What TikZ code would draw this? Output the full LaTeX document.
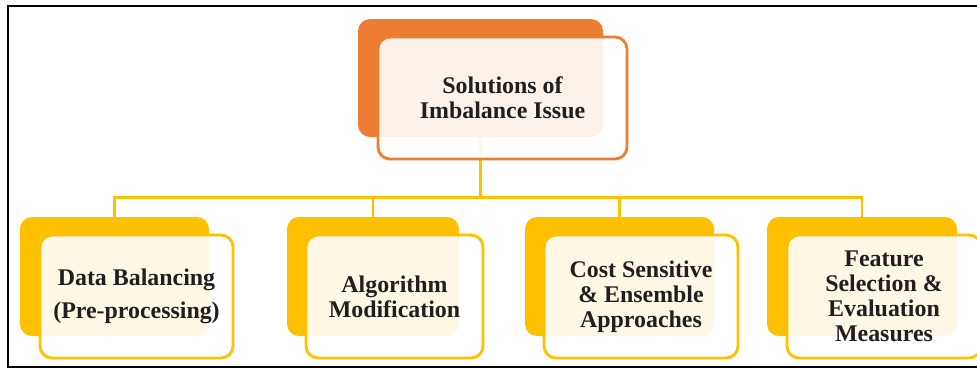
\documentclass[tikz,border=0pt]{standalone}
\usepackage{fontspec}
\setmainfont{Liberation Serif}
\usepackage{xcolor}
\usepackage{tikz}
\usetikzlibrary{positioning,calc}
\definecolor{solorange}{HTML}{ED7D31}
\definecolor{solgold}{HTML}{FFC000}

\tikzset{
    backbox/.style={rectangle, rounded corners=0.24cm, inner sep=0pt},
    frontbox/.style={rectangle, rounded corners=0.24cm, line width=1.6pt,
        fill=white, fill opacity=0.9, text opacity=1, inner sep=0pt, align=center,
        font=\fontsize{13.6}{14.2}\selectfont\bfseries, text=black!88},
    link/.style={solgold, line width=1.5pt},
}

\begin{document}
\begin{tikzpicture}
    \path[use as bounding box, clip] (0,0) rectangle (19.54,7.38);
    % Outer frame (right side runs off the page)
    \draw[line width=1.1pt] (19.8,7.26) -| (0.16,0.04) -- (19.8,0.04);

    % Back plates
    \node[backbox, fill=solorange, minimum width=4.9cm, minimum height=2.36cm] (topb) at (9.61,5.82) {};
    \node[backbox, fill=solgold, minimum width=3.78cm, minimum height=2.38cm] (b1) at (2.29,1.85) {};
    \node[backbox, fill=solgold, minimum width=3.44cm, minimum height=2.38cm] (b2) at (7.46,1.85) {};
    \node[backbox, fill=solgold, minimum width=3.78cm, minimum height=2.38cm] (b3) at (12.39,1.85) {};
    \node[backbox, fill=solgold, minimum width=3.80cm, minimum height=2.38cm] (b4) at (17.24,1.85) {};

    % Links from the top plate to each branch
    \foreach \i in {1,...,4}
        \draw[link] (topb.south) -- ++(0,-1.2) -| (b\i.north);

    % Front boxes with the labels
    \node[frontbox, draw=solorange, minimum width=4.98cm, minimum height=2.44cm] (top)
        at ($(topb)+(0.44,-0.4)$) {Solutions of\\Imbalance Issue};
    \node[frontbox, draw=solgold, minimum width=3.86cm, minimum height=2.46cm] (f1)
        at ($(b1)+(0.44,-0.4)$) {Data Balancing\\[4.6pt](Pre-processing)};
    \node[frontbox, draw=solgold, minimum width=3.54cm, minimum height=2.46cm] (f2)
        at ($(b2)+(0.43,-0.4)$) {Algorithm\\Modification};
    \node[frontbox, draw=solgold, minimum width=3.88cm, minimum height=2.46cm] (f3)
        at ($(b3)+(0.43,-0.4)$) {Cost Sensitive\\\& Ensemble\\Approaches};
    \node[frontbox, draw=solgold, minimum width=3.88cm, minimum height=2.46cm] (f4)
        at ($(b4)+(0.44,-0.4)$) {Feature\\Selection \&\\Evaluation\\Measures};
\end{tikzpicture}
\end{document}
